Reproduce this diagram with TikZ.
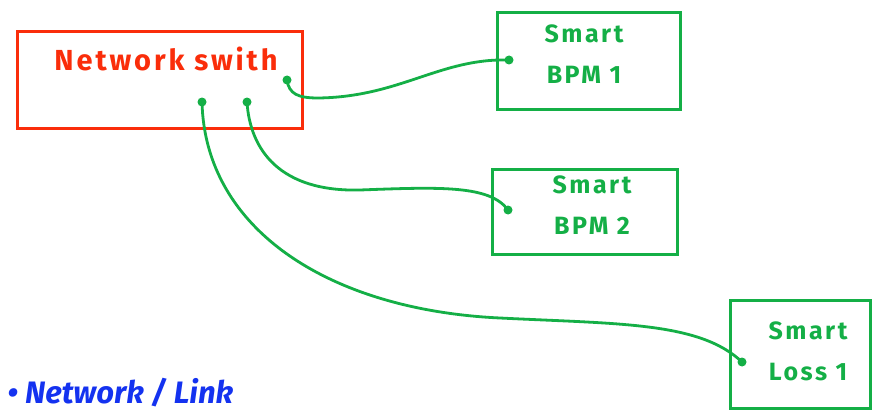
\documentclass[tikz,border=0pt]{standalone}
\usepackage{fontspec}
\setmainfont{Fira Sans}
\newfontfamily\handfont[LetterSpace=10]{Fira Sans}
\usetikzlibrary{calc}
\definecolor{mred}{RGB}{250,45,10}
\definecolor{mgreen}{RGB}{20,175,70}
\definecolor{mblue}{RGB}{20,50,240}
\tikzset{
  swbox/.style={draw=mred, line width=3pt, rectangle, minimum width=285pt, minimum height=96pt, inner sep=0pt},
  dev/.style={draw=mgreen, line width=3pt, rectangle, inner sep=0pt},
  devtext/.style={text=mgreen, align=center, font=\handfont\fontsize{25}{41}\selectfont\bfseries},
  wire/.style={draw=mgreen, line width=2.8pt, line cap=round},
  port/.style={fill=mgreen, circle, inner sep=0pt, minimum size=9pt}
}
\begin{document}
\begin{tikzpicture}[x=1pt,y=-1pt]
\useasboundingbox (0,0) rectangle (873,412);
\fill[white] (0,0) rectangle (873,412);
\begin{scope}
\clip (0,0) rectangle (873,412);
% network switch
\node[swbox] (sw) at (160,80) {};
\node[text=mred, font=\handfont\fontsize{29}{32}\selectfont\bfseries] (swl) at (166,59) {Network swith};
% devices
\node[dev, minimum width=183pt, minimum height=96pt] (b1) at (589,61) {};
\node[devtext] (b1l) at (584,54) {Smart\\BPM 1};
\node[dev, minimum width=185pt, minimum height=85pt] (b2) at (585,212) {};
\node[devtext] (b2l) at (592,205) {Smart\\BPM 2};
\node[dev, minimum width=140pt, minimum height=108pt] (l1) at (800,354) {};
\node[devtext] (l1l) at (808,351) {Smart\\Loss 1};
% ports
\node[port] (s1) at (287,80) {};
\node[port] (s2) at (247,102) {};
\node[port] (s3) at (202,102) {};
\node[port] (d1) at (509,60) {};
\node[port] (d2) at (508,210) {};
\node[port] (d3) at (742,362) {};
% wires
\draw[wire] (s1.center) .. controls (289,94) and (298,98) .. (318,98)
  .. controls (400,97) and (440,58) .. (d1.center);
\draw[wire] (s2.center) .. controls (250,150) and (280,192) .. (360,190)
  .. controls (440,187) and (490,185) .. (d2.center);
\draw[wire] (s3.center) .. controls (205,230) and (330,310) .. (500,318)
  .. controls (620,324) and (700,322) .. (d3.center);
% bottom note
\node[anchor=base west, text=mblue, font=\fontsize{31}{34}\selectfont\bfseries\itshape] (note) at (4,403) {• Network / Link};
\end{scope}
\end{tikzpicture}
\end{document}
